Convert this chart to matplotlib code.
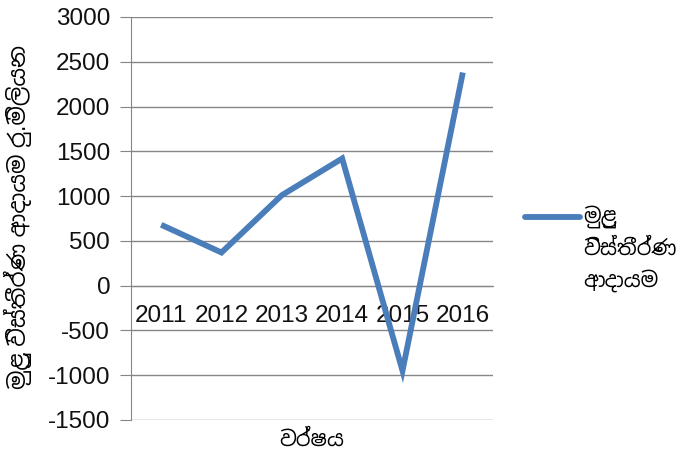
import matplotlib
matplotlib.use("Agg")
import matplotlib.pyplot as plt
from matplotlib import font_manager
from matplotlib.lines import Line2D

years = ["2011", "2012", "2013", "2014", "2015", "2016"]
income = [680, 370, 1010, 1420, -950, 2380]
y_ticks = [-1500, -1000, -500, 0, 500, 1000, 1500, 2000, 2500, 3000]
x_title = "වර්ෂය"
y_title = "මුළු විස්තීර්ණ ආදායම රු.මිලියන"
series_lines = ["මුළු", "විස්තීර්ණ", "ආදායම"]

# pick up any installed font that carries Sinhala glyphs
sinhala = [f.name for f in font_manager.fontManager.ttflist if "Sinhala" in f.name]
fams = ["Liberation Sans"] + sorted(set(sinhala)) + ["DejaVu Sans"]
plt.rcParams["font.family"] = fams

fig = plt.figure(figsize=(6.98, 4.54), dpi=100)
ax = fig.add_axes([131 / 698, 1 - 420 / 454, (493 - 131) / 698, (420 - 17) / 454])

line_color = "#4a7ebb"
grid_color = "#868686"
x = list(range(len(years)))
ax.plot(x, income, color=line_color, lw=4.2, solid_capstyle="butt",
        solid_joinstyle="miter", zorder=3)

ax.set_xlim(-0.5, len(years) - 0.5)
ax.set_ylim(-1500, 3000)
ax.set_yticks(y_ticks)
ax.set_yticklabels([str(v) for v in y_ticks])
for v in y_ticks:
    ax.axhline(v, color=grid_color, lw=1, zorder=1)

ax.set_xticks(x)
ax.set_xticklabels(years)
ax.spines["top"].set_visible(False)
ax.spines["right"].set_visible(False)
ax.spines["left"].set_color(grid_color)
ax.spines["bottom"].set_color(grid_color)
ax.spines["bottom"].set_position(("data", 0))
ax.tick_params(axis="y", length=8, color=grid_color, labelsize=17.5, pad=7,
               labelcolor="#111111")
ax.tick_params(axis="x", length=0, labelsize=17.5, pad=14, labelcolor="#111111")

ax.set_ylabel(y_title, fontsize=16.5)
ax.yaxis.set_label_coords(-99 / 362, 0.505)
fig.text(312 / 698, 1 - 440 / 454, x_title, fontsize=15, ha="center", va="center")

# legend: sample line and wrapped series name
fig.add_artist(Line2D([525 / 698, 580 / 698], [1 - 217 / 454, 1 - 217 / 454],
                      color=line_color, lw=4.2, solid_capstyle="round"))
for i, t in enumerate(series_lines):
    fig.text(583 / 698, 1 - (217 + 32 * i) / 454, t, fontsize=15,
             ha="left", va="center")

fig.savefig("out.png", dpi=100)
